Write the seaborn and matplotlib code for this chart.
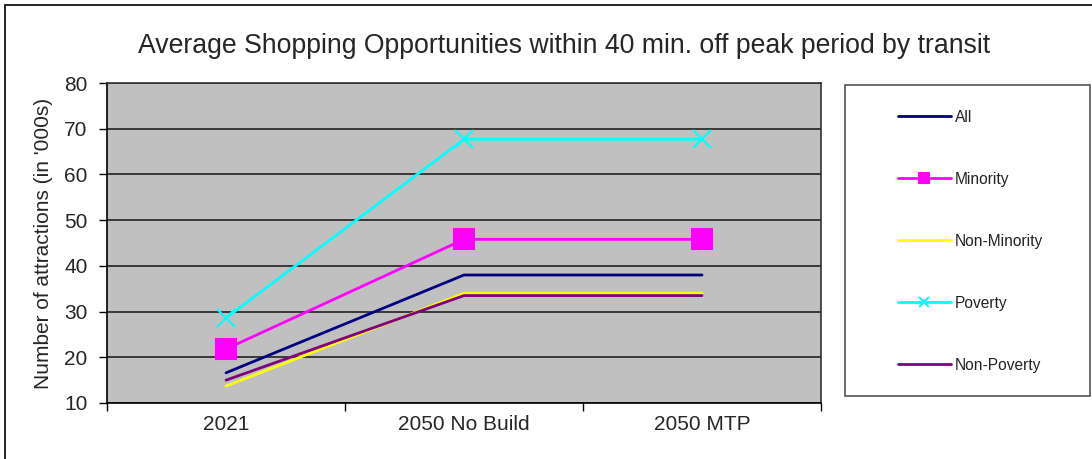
import pandas as pd
import seaborn as sns
import matplotlib.pyplot as plt
from matplotlib.patches import Rectangle

# 数据
periods = ["2021", "2050 No Build", "2050 MTP"]
all_vals = [16.6, 38.0, 38.0]
minority = [21.8, 45.8, 45.8]
non_minority = [13.7, 34.0, 34.0]
poverty = [28.6, 67.7, 67.7]
non_poverty = [15.0, 33.5, 33.5]

series = {
    "All": all_vals,
    "Minority": minority,
    "Non-Minority": non_minority,
    "Poverty": poverty,
    "Non-Poverty": non_poverty,
}
colors = {
    "All": "#000080",
    "Minority": "#FF00FF",
    "Non-Minority": "#FFFF00",
    "Poverty": "#00FFFF",
    "Non-Poverty": "#800080",
}
markers = {"All": None, "Minority": "s", "Non-Minority": None,
           "Poverty": "x", "Non-Poverty": None}
msizes = {"Minority": 14, "Poverty": 13}

sns.set_style("white")
plt.rcParams["font.family"] = ["Liberation Sans", "DejaVu Sans"]

fig = plt.figure(figsize=(10.92, 4.59), dpi=100)
ax = fig.add_axes([107 / 1092, 1 - 403 / 459, 714 / 1092, 320 / 459])
ax.set_facecolor("#C0C0C0")

for name, vals in series.items():
    df = pd.DataFrame({"period": periods, "value": vals})
    kw = {}
    if markers[name]:
        kw = dict(marker=markers[name], markersize=msizes[name],
                  markeredgecolor=colors[name], markeredgewidth=1.5)
    sns.lineplot(data=df, x="period", y="value", ax=ax, color=colors[name],
                 linewidth=2, label=name, sort=False, legend=False, **kw)

ax.set_xlim(-0.5, 2.5)
ax.set_ylim(10, 80)
ax.set_yticks(range(10, 81, 10))
ax.yaxis.grid(True, color="#222222", linewidth=1.2)
ax.set_xticks([-0.5, 0.5, 1.5, 2.5])
ax.set_xticklabels([])
ax.set_xticks([0, 1, 2], minor=True)
ax.set_xticklabels(periods, minor=True)
ax.tick_params(axis="x", which="minor", length=0, pad=9, labelsize=15)
ax.tick_params(axis="x", which="major", length=6, width=1, color="black",
               direction="out", bottom=True)
ax.tick_params(axis="y", length=6, width=1, color="black", direction="out",
               left=True, labelsize=15, pad=8)
ax.set_xlabel("")
ax.set_ylabel("Number of attractions (in '000s)", fontsize=15, labelpad=8)
for s in ax.spines.values():
    s.set_color("#333333")
    s.set_linewidth(1.2)
ax.spines["left"].set_color("black")
ax.spines["bottom"].set_color("black")

fig.suptitle("Average Shopping Opportunities within 40 min. off peak period by transit",
             x=564 / 1092, y=1 - 46 / 459, va="center", fontsize=19.2)

# 图例框
fig.patches.append(Rectangle((845 / 1092, 1 - 396 / 459), 245 / 1092, 311 / 459,
                             transform=fig.transFigure, facecolor="white",
                             edgecolor="#555555", linewidth=1.2, zorder=-1))
fig.patches.append(Rectangle((5 / 1092, -0.05), 1.05, 1 - 5 / 459 + 0.05,
                             transform=fig.transFigure, facecolor="none",
                             edgecolor="black", linewidth=1.2, zorder=-1))
handles, labels = ax.get_legend_handles_labels()
leg = fig.legend(handles, labels, loc="upper left",
                 bbox_to_anchor=(890 / 1092, 1 - 102 / 459),
                 frameon=False, fontsize=11.2,
                 handlelength=3.4, handletextpad=0.25, labelspacing=3.02,
                 borderpad=0)
for h in leg.legend_handles:
    h.set_markersize(7)
for t in leg.get_texts():
    t.set_color("#222222")

plt.savefig("out.png", dpi=100)
